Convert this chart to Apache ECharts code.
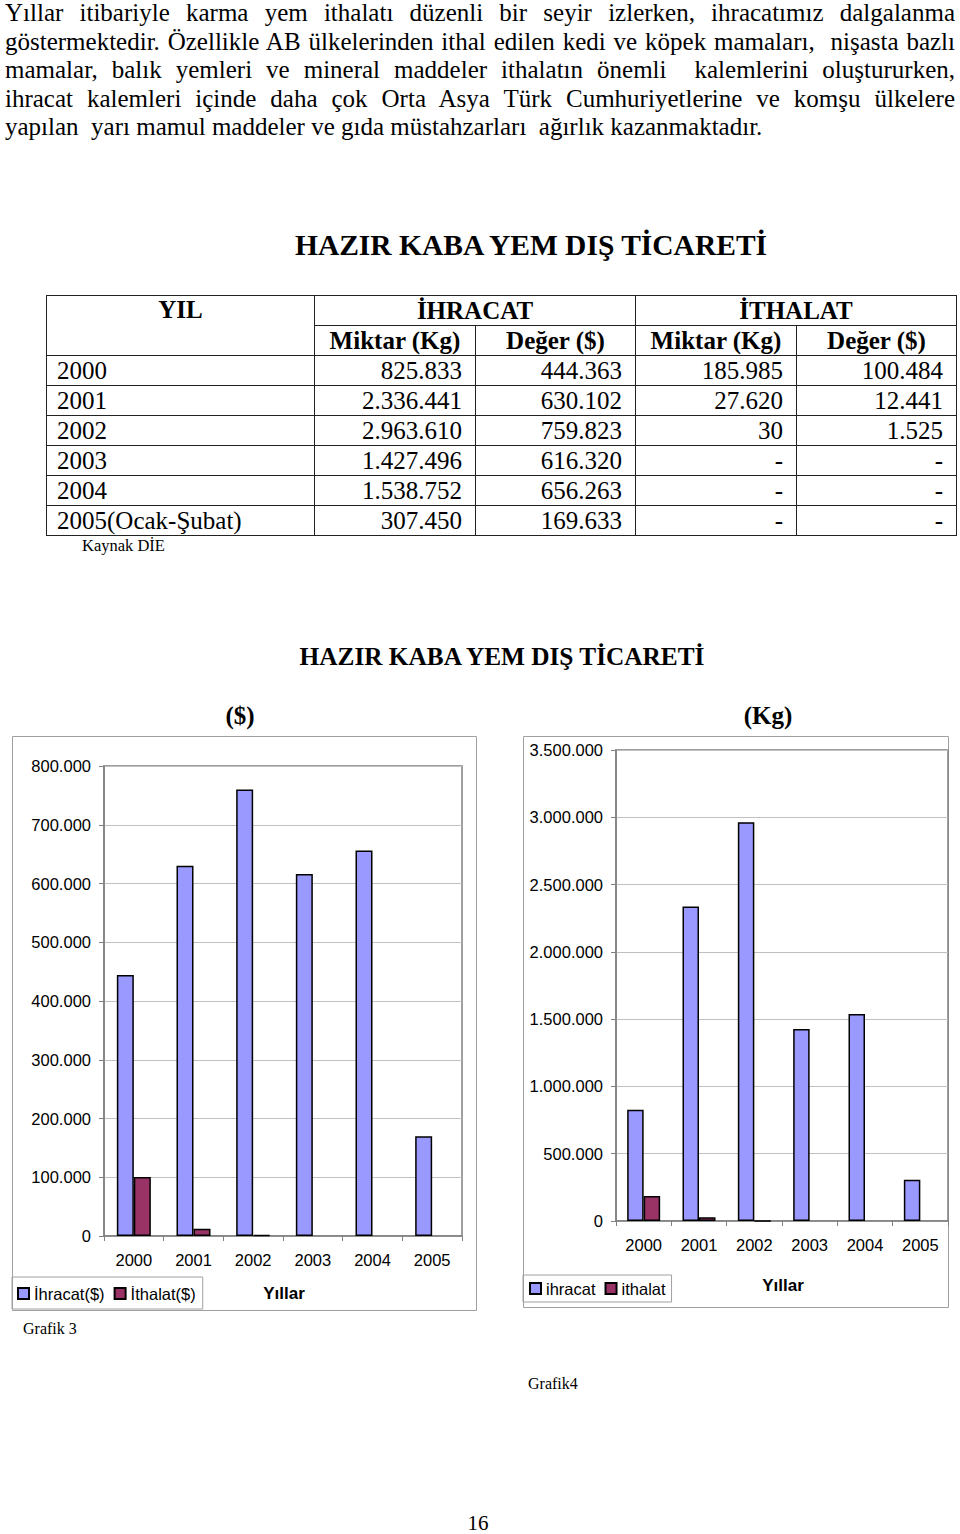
<!DOCTYPE html>
<html>
<head>
<meta charset="utf-8">
<script src="https://cdn.jsdelivr.net/npm/echarts@6/dist/echarts.min.js"></script>
<style>
  html, body { margin:0; padding:0; background:#fff; }
  body { width:960px; height:1534px; position:relative; overflow:hidden; }
  #chart { position:absolute; left:0; top:0; width:960px; height:1534px; z-index:1; }
  .layer { position:absolute; z-index:2; font-family:"Liberation Serif", "Times New Roman", serif; color:#000; }
  #para { left:5px; top:-1px; width:950px; font-size:25px; line-height:28.5px; }
  #para div { text-align:justify; text-align-last:justify; white-space:nowrap; height:28.5px; }
  #para div.last { text-align:left; text-align-last:left; white-space:pre; }
  #ttitle { left:0; width:1062px; top:228px; line-height:34px; text-align:center; font-size:29.5px; font-weight:bold; }
  #tbl { left:46px; top:295px; border-collapse:collapse; table-layout:fixed; font-size:25px; }
  #tbl td, #tbl th { border:1.5px solid #222; height:30px; padding:0; line-height:28px; box-sizing:border-box; overflow:hidden; white-space:nowrap; }
  #tbl th { font-weight:bold; text-align:center; }
  #tbl td.y { text-align:left; padding-left:10px; }
  #tbl td.n { text-align:right; padding-right:13px; }
  #src { left:82px; top:535px; font-size:16.5px; line-height:22px; }
</style>
</head>
<body>
<div id="chart"></div>
<div id="para" class="layer">
  <div>Yıllar itibariyle karma yem ithalatı düzenli bir seyir izlerken, ihracatımız dalgalanma</div>
  <div>göstermektedir. Özellikle AB ülkelerinden ithal edilen kedi ve köpek mamaları,&nbsp; nişasta bazlı</div>
  <div>mamalar, balık yemleri ve mineral maddeler ithalatın önemli&nbsp; kalemlerini oluştururken,</div>
  <div>ihracat kalemleri içinde daha çok Orta Asya Türk Cumhuriyetlerine ve komşu ülkelere</div>
  <div class="last">yapılan  yarı mamul maddeler ve gıda müstahzarları  ağırlık kazanmaktadır.</div>
</div>
<div id="ttitle" class="layer">HAZIR KABA YEM DIŞ TİCARETİ</div>
<table id="tbl" class="layer">
  <colgroup><col style="width:268px"><col style="width:161px"><col style="width:160px"><col style="width:161px"><col style="width:160px"></colgroup>
  <thead>
    <tr><th rowspan="2" style="vertical-align:top">YIL</th><th colspan="2">İHRACAT</th><th colspan="2">İTHALAT</th></tr>
    <tr><th>Miktar (Kg)</th><th>Değer ($)</th><th>Miktar (Kg)</th><th>Değer ($)</th></tr>
  </thead>
  <tbody id="tbody"></tbody>
</table>
<div id="src" class="layer">Kaynak DİE</div>

<script>
// ---- data ----
const years = ['2000', '2001', '2002', '2003', '2004', '2005'];
const tableYearLabels = ['2000', '2001', '2002', '2003', '2004', '2005(Ocak-Şubat)'];
const exportKg  = [825833, 2336441, 2963610, 1427496, 1538752, 307450];
const exportUsd = [444363, 630102, 759823, 616320, 656263, 169633];
const importKg  = [185985, 27620, 30, null, null, null];
const importUsd = [100484, 12441, 1525, null, null, null];
const usdAxis = { min: 0, max: 800000, interval: 100000 };
const kgAxis  = { min: 0, max: 3500000, interval: 500000 };

function fmt(v) {
  if (v === null || v === undefined) return '-';
  return String(v).replace(/\B(?=(\d{3})+(?!\d))/g, '.');
}

// ---- table ----
const tbody = document.getElementById('tbody');
tableYearLabels.forEach(function (label, i) {
  const tr = document.createElement('tr');
  const cells = [[label, 'y'], [fmt(exportKg[i]), 'n'], [fmt(exportUsd[i]), 'n'], [fmt(importKg[i]), 'n'], [fmt(importUsd[i]), 'n']];
  cells.forEach(function (c) {
    const td = document.createElement('td');
    td.className = c[1];
    td.textContent = c[0];
    tr.appendChild(td);
  });
  tbody.appendChild(tr);
});

// ---- chart ----
const SANS = '"Liberation Sans", Arial, sans-serif';
const SERIF = '"Liberation Serif", "Times New Roman", serif';
const chart = echarts.init(document.getElementById('chart'), null, { renderer: 'svg' });

function xAx(idx) {
  return {
    type: 'category', gridIndex: idx, data: years,
    axisLine: { show: true, lineStyle: { color: '#808080', width: 1.5 } },
    axisTick: { show: true, length: 5, lineStyle: { color: '#808080' } },
    axisLabel: { color: '#000', fontFamily: SANS, fontSize: 16.5, margin: 15 },
    splitLine: { show: false }
  };
}
function yAx(idx, ax) {
  return {
    type: 'value', gridIndex: idx, min: ax.min, max: ax.max, interval: ax.interval,
    axisLine: { show: true, lineStyle: { color: '#808080', width: 1.5 } },
    axisTick: { show: true, length: 5, lineStyle: { color: '#808080' } },
    axisLabel: { color: '#000', fontFamily: SANS, fontSize: 16.5, margin: 13, formatter: fmt },
    splitLine: { show: true, lineStyle: { color: '#c0c0c0', width: 1 } }
  };
}
const expStyle = { color: '#9999FF', borderColor: '#000', borderWidth: 1.5 };
const impStyle = { color: '#993366', borderColor: '#000', borderWidth: 1.5 };

chart.setOption({
  animation: false,
  grid: [
    { left: 104, top: 766, width: 358, height: 470, show: true, borderColor: '#808080', borderWidth: 1.5, backgroundColor: 'transparent' },
    { left: 616, top: 750, width: 332, height: 471, show: true, borderColor: '#808080', borderWidth: 1.5, backgroundColor: 'transparent' }
  ],
  xAxis: [xAx(0), xAx(1)],
  yAxis: [yAx(0, usdAxis), yAx(1, kgAxis)],
  legend: [
    { left: 12, top: 1277, orient: 'horizontal', padding: [8, 7, 7, 5], itemGap: 9, itemWidth: 11, itemHeight: 11,
      borderColor: '#a0a0a0', borderWidth: 1, icon: 'rect', selectedMode: false,
      textStyle: { color: '#000', fontFamily: SANS, fontSize: 16.5 }, data: ['İhracat($)', 'İthalat($)'] },
    { left: 523, top: 1275, orient: 'horizontal', padding: [5, 6, 5, 6], itemGap: 9, itemWidth: 11, itemHeight: 11,
      borderColor: '#a0a0a0', borderWidth: 1, icon: 'rect', selectedMode: false,
      textStyle: { color: '#000', fontFamily: SANS, fontSize: 16.5 }, data: ['ihracat', 'ithalat'] }
  ],
  series: [
    { type: 'bar', name: 'İhracat($)', xAxisIndex: 0, yAxisIndex: 0, data: exportUsd, barWidth: 17, barGap: '0%', itemStyle: expStyle },
    { type: 'bar', name: 'İthalat($)', xAxisIndex: 0, yAxisIndex: 0, data: importUsd, barWidth: 17, barGap: '0%', itemStyle: impStyle },
    { type: 'bar', name: 'ihracat', xAxisIndex: 1, yAxisIndex: 1, data: exportKg, barWidth: 16.5, barGap: '0%', itemStyle: expStyle },
    { type: 'bar', name: 'ithalat', xAxisIndex: 1, yAxisIndex: 1, data: importKg, barWidth: 16.5, barGap: '0%', itemStyle: impStyle }
  ],
  graphic: [
    { type: 'rect', z: -1, shape: { x: 12.5, y: 736.5, width: 464, height: 574 }, style: { fill: 'none', stroke: '#a0a0a0', lineWidth: 1 } },
    { type: 'rect', z: -1, shape: { x: 523.5, y: 736.5, width: 425, height: 571 }, style: { fill: 'none', stroke: '#a0a0a0', lineWidth: 1 } },
    { type: 'text', x: 502, y: 656, style: { text: 'HAZIR KABA YEM DIŞ TİCARETİ', font: 'bold 25.3px ' + SERIF, fill: '#000', align: 'center', verticalAlign: 'middle' } },
    { type: 'text', x: 240, y: 715, style: { text: '($)', font: 'bold 25px ' + SERIF, fill: '#000', align: 'center', verticalAlign: 'middle' } },
    { type: 'text', x: 768, y: 715, style: { text: '(Kg)', font: 'bold 25px ' + SERIF, fill: '#000', align: 'center', verticalAlign: 'middle' } },
    { type: 'text', x: 284, y: 1293, style: { text: 'Yıllar', font: 'bold 17px ' + SANS, fill: '#000', align: 'center', verticalAlign: 'middle' } },
    { type: 'text', x: 783, y: 1285, style: { text: 'Yıllar', font: 'bold 17px ' + SANS, fill: '#000', align: 'center', verticalAlign: 'middle' } },
    { type: 'text', x: 23, y: 1328, style: { text: 'Grafik 3', font: '16px ' + SERIF, fill: '#000', align: 'left', verticalAlign: 'middle' } },
    { type: 'text', x: 528, y: 1383, style: { text: 'Grafik4', font: '16px ' + SERIF, fill: '#000', align: 'left', verticalAlign: 'middle' } },
    { type: 'text', x: 478, y: 1523, style: { text: '16', font: '21px ' + SERIF, fill: '#000', align: 'center', verticalAlign: 'middle' } }
  ]
});
</script>
</body>
</html>
